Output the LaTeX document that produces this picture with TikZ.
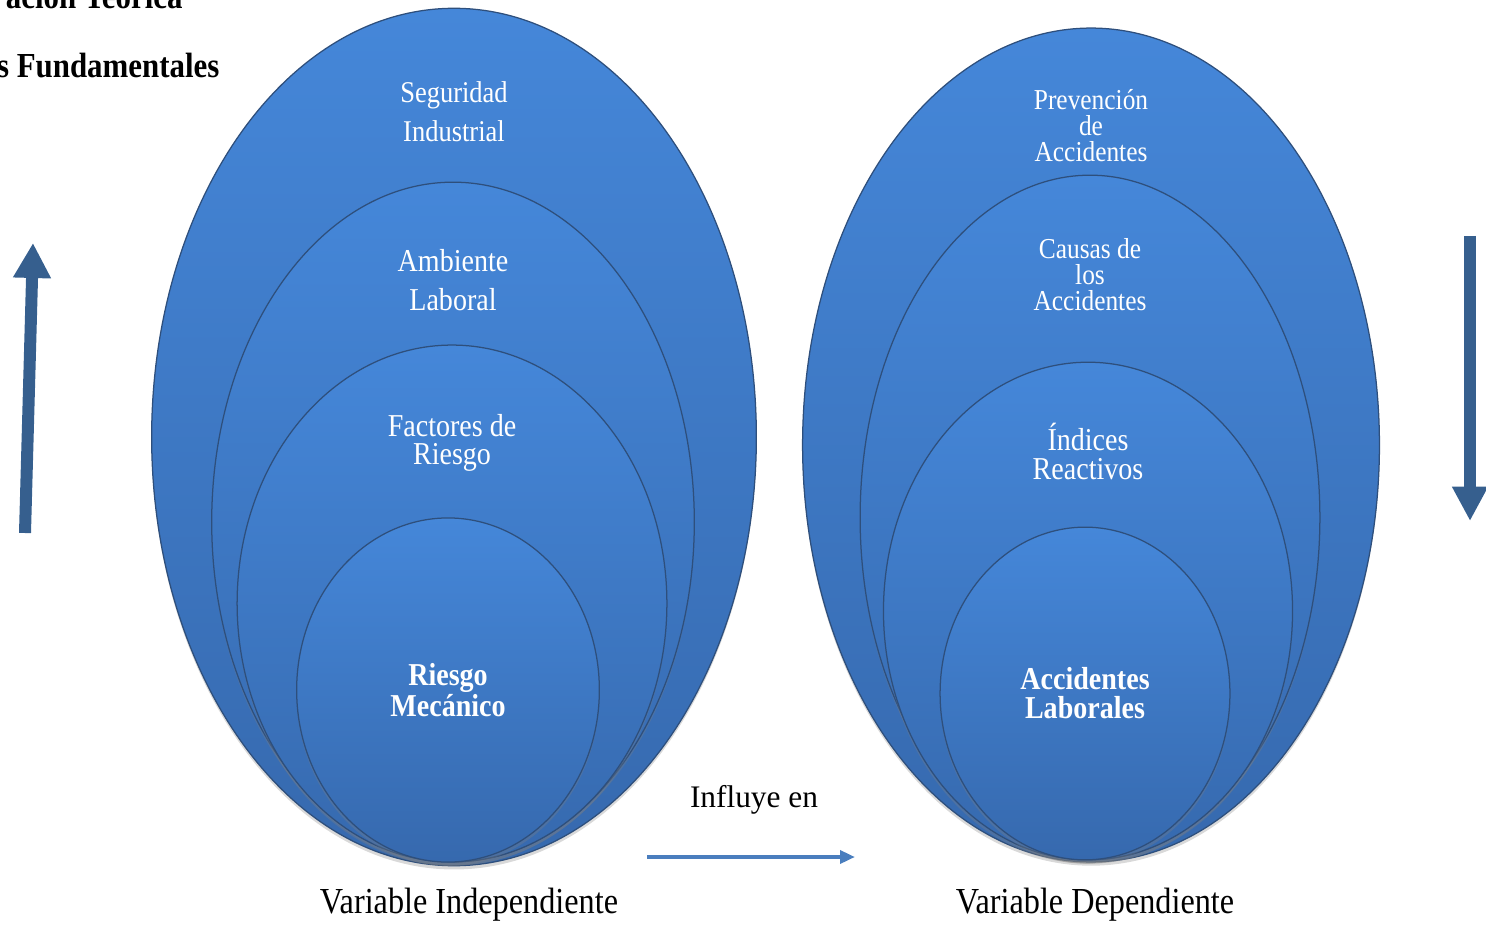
\documentclass[tikz,border=0pt]{standalone}
\usepackage{fontspec}
\setmainfont{Liberation Serif}
\newfontfamily\narrowserif{Liberation Serif}[FakeStretch=0.88]
\usetikzlibrary{arrows.meta,calc,shapes.geometric,shadows}
\definecolor{shellTop}{HTML}{4587D9}
\definecolor{shellBot}{HTML}{3669AE}
\definecolor{shellLine}{HTML}{2E4F7C}
\definecolor{arrowDark}{HTML}{365F8E}
\definecolor{arrowLight}{HTML}{4A7EBE}

\begin{document}
\begin{tikzpicture}[x=0.014cm,y=-0.014cm,
 shell/.style={ellipse,draw=shellLine,line width=.5pt,top color=shellTop,bottom color=shellBot,
  inner sep=0pt,drop shadow={opacity=.3,shadow xshift=0pt,shadow yshift=-1.5pt}},
 tag/.style={text=white,align=center,inner sep=1pt},
 core/.style={text=white,align=center,font=\narrowserif\bfseries\fontsize{12.7}{11.5}\selectfont},
 caption/.style={font=\narrowserif\fontsize{14.6}{17}\selectfont},
 title/.style={font=\narrowserif\bfseries\fontsize{14}{16}\selectfont,inner sep=0pt,anchor=base east},
 bigarrow/.style={draw=arrowDark,line width=.168cm},
 flow/.style={-{Triangle[length=.21cm,width=.18cm]},draw=arrowLight,line width=1.5pt}]
\useasboundingbox (0,0) rectangle (1486,926);
\clip (0,0) rectangle (1486,926);
% headings cut at the page edge
\node[title] (ttlA) at (183,9) {ación Teórica};
\node[title] (ttlB) at (220,78) {s Fundamentales};
% nested shells, outer first
\foreach \nm/\cx/\cy/\w/\h in {seg/454/437/8.47/12.01,amb/453/522/6.76/9.52,fac/452/603.5/6.02/7.24,
 prev/1091/445/8.08/11.68,caus/1090/517.5/6.44/9.59,ind/1088/611/5.73/6.97}{
 \node[shell,minimum width=\w cm,minimum height=\h cm] (\nm) at (\cx,\cy) {};
}
\node[shell,core,minimum width=4.24cm,minimum height=4.82cm] (mec) at (448,690) {Riesgo\\Mecánico};
\node[shell,core,minimum width=4.06cm,minimum height=4.66cm] (acc) at (1085,693.5) {Accidentes\\Laborales};
% shell labels
\node[tag,font=\narrowserif\fontsize{12}{15.5}\selectfont] (segT) at ($(seg.north)+(0,-1.46cm)$) {Seguridad\\Industrial};
\node[tag,font=\narrowserif\fontsize{12.7}{15.5}\selectfont] (ambT) at ($(amb.north)+(0,-1.38cm)$) {Ambiente\\Laboral};
\node[tag,font=\narrowserif\fontsize{12.7}{11.2}\selectfont] (facT) at ($(fac.north)+(0,-1.38cm)$) {Factores de\\Riesgo};
\node[tag,font=\narrowserif\fontsize{11.5}{10.4}\selectfont] (prevT) at ($(prev.north)+(0,-1.38cm)$) {Prevención\\de\\Accidentes};
\node[tag,font=\narrowserif\fontsize{11.5}{10.4}\selectfont] (causT) at ($(caus.north)+(0,-1.40cm)$) {Causas de\\los\\Accidentes};
\node[tag,font=\narrowserif\fontsize{12.7}{11.6}\selectfont] (indT) at ($(ind.north)+(0,-1.26cm)$) {Índices\\Reactivos};
% captions
\node[caption] (indep) at (469,905) {Variable Independiente};
\node[caption] (dep) at (1095,905) {Variable Dependiente};
\node[font=\fontsize{12.5}{15}\selectfont] (influye) at (754,800) {Influye en};
% arrows
\coordinate (upTail) at (25,533);
\coordinate (upHead) at (33,243);
\coordinate (downTail) at (1470,236);
\coordinate (downHead) at (1470,521);
\coordinate (flowTail) at (647,857);
\coordinate (flowHead) at (855,857);
\draw[bigarrow,-{Triangle[length=.49cm,width=.5cm]}] (upTail)--(upHead);
\draw[bigarrow,-{Triangle[length=.48cm,width=.47cm]}] (downTail)--(downHead);
\draw[flow] (flowTail)--(flowHead);
\end{tikzpicture}
\end{document}
